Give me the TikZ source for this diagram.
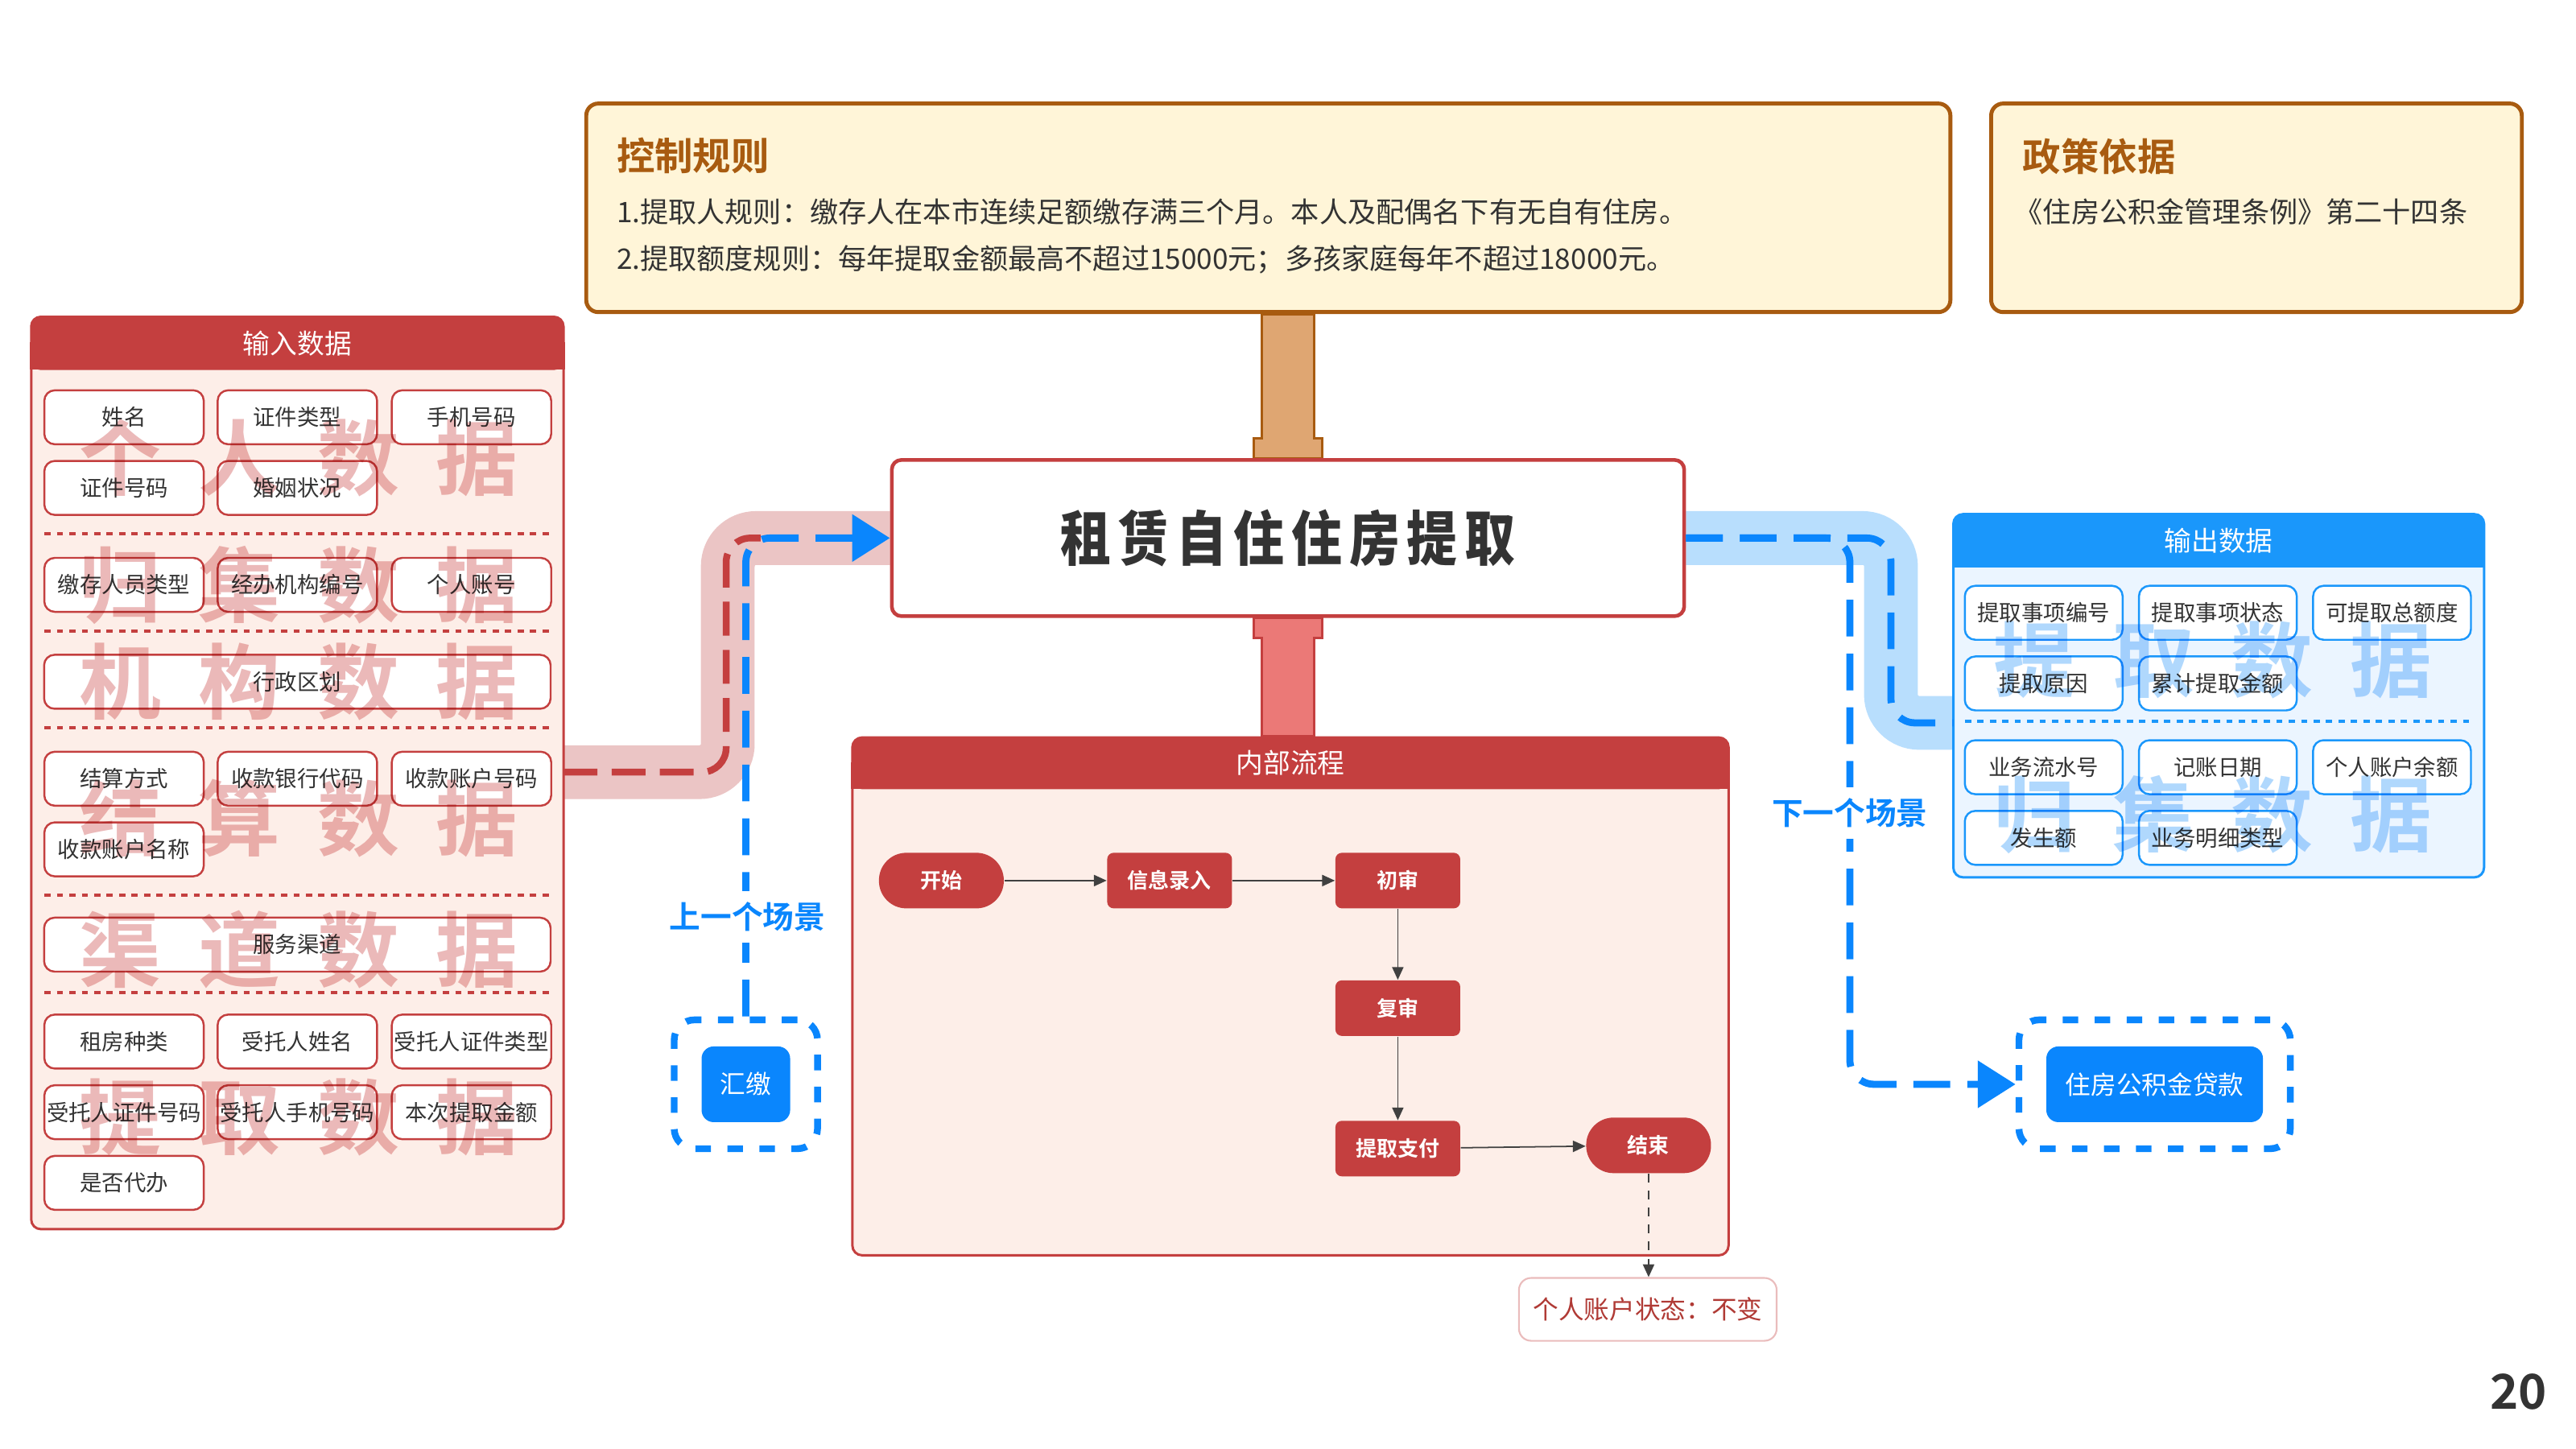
\documentclass[tikz,border=0pt]{standalone}
\usepackage{fontspec}
\setmainfont{Noto Sans CJK SC}[BoldFont={Noto Sans CJK SC Bold}]
\newfontfamily\titlefont{Noto Sans CJK SC Black}[FakeStretch=0.85,LetterSpace=12]
\usepackage{xcolor}
\usetikzlibrary{arrows.meta, positioning, calc, backgrounds}

\definecolor{hdred}{HTML}{C43F3F}
\definecolor{bodyred}{HTML}{FDEEE8}
\definecolor{bandred}{HTML}{EBC5C5}
\definecolor{barred}{HTML}{EB7977}
\definecolor{wmred}{HTML}{EBB9B9}
\definecolor{hdblue}{HTML}{1A97FB}
\definecolor{bodyblue}{HTML}{EBF5FF}
\definecolor{bandblue}{HTML}{B8DEFD}
\definecolor{wmblue}{HTML}{B0D8FD}
\definecolor{lineblue}{HTML}{0A86FD}
\definecolor{rulebrown}{HTML}{A85B10}
\definecolor{rulefill}{HTML}{FFF5D8}
\definecolor{barbrown}{HTML}{DFA672}
\definecolor{txtgray}{HTML}{333333}
\definecolor{notered}{HTML}{B03A35}

\newcommand{\fsz}[1]{\fontsize{#1}{#1}\selectfont}
\newcommand{\wmtext}[4]{#1\hskip13pt#2\hskip13pt#3\hskip13pt#4}

\begin{document}
\begin{tikzpicture}[
    x=0.020408cm, y=-0.020408cm,
    every node/.style={font=\fsz{7.8}, text=txtgray},
    panel/.style={draw, line width=0.85pt, rounded corners=0.12cm, inner sep=0pt},
    header/.style={rounded corners=0.12cm, inner sep=0pt, minimum height=0.67cm, text=white, font=\fsz{9.6}},
    inbox/.style={draw=hdred, fill=white, rounded corners=0.13cm, line width=0.7pt, minimum width=1.98cm, minimum height=0.67cm, inner sep=0pt},
    widebox/.style={inbox, minimum width=6.29cm},
    outbox/.style={inbox, draw=hdblue, minimum width=1.96cm},
    sepline/.style={line width=1.1pt, dash pattern=on 2.2pt off 2.2pt},
    wmark/.style={font=\bfseries\fsz{29}, inner sep=0pt},
    plain/.style={anchor=west, inner sep=0pt},
    stepbox/.style={fill=hdred, rounded corners=0.08cm, minimum width=1.55cm, minimum height=0.69cm, inner sep=0pt, text=white, font=\bfseries\fsz{7.4}},
    termbox/.style={stepbox, rounded corners=0.34cm},
    flow/.style={draw=black!75, line width=0.5pt, -{Triangle[length=4.5pt, width=4pt]}},
    ruleboard/.style={draw=rulebrown, fill=rulefill, line width=1.4pt, rounded corners=0.15cm, inner sep=0pt},
    scenebox/.style={draw=lineblue, line width=2.4pt, dash pattern=on 5.5pt off 5.8pt, rounded corners=0.25cm, inner sep=0pt},
    scenecard/.style={fill=lineblue, rounded corners=0.15cm, inner sep=0pt, minimum height=0.94cm, text=white, font=\fsz{9}},
    scenelabel/.style={fill=white, inner xsep=1pt, inner ysep=4pt, text=lineblue, font=\bfseries\fsz{11}},
    hop/.style={draw=lineblue, line width=2.5pt, dash pattern=on 13pt off 6pt, rounded corners=0.3cm},
    band/.style={line width=19pt, rounded corners=0.35cm}
]
\useasboundingbox (0,0) rectangle (1568,882);

% Rules on top
\node[ruleboard, minimum width=16.94cm, minimum height=2.59cm] (rules) at (772,126.5) {};
\node[plain, text=rulebrown, font=\bfseries\fsz{13.5}] (rulestitle) at (375,95) {控制规则};
\node[plain, font=\fsz{10}] (rule1) at (375,129) {1.提取人规则：缴存人在本市连续足额缴存满三个月。本人及配偶名下有无自有住房。};
\node[plain, font=\fsz{10}] (rule2) at (375,158) {2.提取额度规则：每年提取金额最高不超过15000元；多孩家庭每年不超过18000元。};

\node[ruleboard, minimum width=6.59cm, minimum height=2.59cm] (policy) at (1373.5,126.5) {};
\node[plain, text=rulebrown, font=\bfseries\fsz{13.5}] (policytitle) at (1231,95) {政策依据};
\node[plain, font=\fsz{10}] (policytext) at (1226,129) {《住房公积金管理条例》第二十四条};

% Scenario title
\node[draw=hdred, fill=white, line width=1.3pt, rounded corners=0.12cm, minimum width=9.84cm, minimum height=1.94cm, font=\titlefont\fsz{21}] (title) at (784,327.5) {租赁自住住房提取};

% Input data
\node[panel, draw=hdred, fill=bodyred, minimum width=6.61cm, minimum height=11.33cm] (inpanel) at (181,470.5) {};
\fill[hdred] ($(inpanel.north west)+(0,16)$) rectangle ($(inpanel.north east)+(0,33)$);
\node[header, fill=hdred, minimum width=6.61cm, anchor=north] (inhead) at (inpanel.north) {输入数据};

\node[inbox] (name) at (75.5,254) {姓名};
\node[inbox] (idtype) at (181,254) {证件类型};
\node[inbox] (phone) at (287,254) {手机号码};
\node[inbox] (idno) at (75.5,297) {证件号码};
\node[inbox] (marry) at (181,297) {婚姻状况};
\draw[sepline, hdred] (27,325) -- (336,325);
\node[inbox] (deptype) at (75.5,356) {缴存人员类型};
\node[inbox] (orgno) at (181,356) {经办机构编号};
\node[inbox] (acct) at (287,356) {个人账号};
\draw[sepline, hdred] (27,384) -- (336,384);
\node[widebox] (region) at (181,415) {行政区划};
\draw[sepline, hdred] (27,443) -- (336,443);
\node[inbox] (settle) at (75.5,474) {结算方式};
\node[inbox] (bankcode) at (181,474) {收款银行代码};
\node[inbox] (payeeno) at (287,474) {收款账户号码};
\node[inbox] (payeename) at (75.5,517) {收款账户名称};
\draw[sepline, hdred] (27,545) -- (336,545);
\node[widebox] (channel) at (181,575) {服务渠道};
\draw[sepline, hdred] (27,604) -- (336,604);
\node[inbox] (renttype) at (75.5,634) {租房种类};
\node[inbox] (agentname) at (181,634) {受托人姓名};
\node[inbox] (agentidtype) at (287,634) {受托人证件类型};
\node[inbox] (agentidno) at (75.5,677) {受托人证件号码};
\node[inbox] (agentphone) at (181,677) {受托人手机号码};
\node[inbox] (amount) at (287,677) {本次提取金额};
\node[inbox] (proxy) at (75.5,720) {是否代办};

% Output data
\node[panel, draw=hdblue, fill=bodyblue, minimum width=6.59cm, minimum height=4.51cm] (outpanel) at (1350.5,423.5) {};
\fill[hdblue] ($(outpanel.north west)+(0,16)$) rectangle ($(outpanel.north east)+(0,33)$);
\node[header, fill=hdblue, minimum width=6.59cm, anchor=north] (outhead) at (outpanel.north) {输出数据};

\node[outbox] (itemno) at (1244,373) {提取事项编号};
\node[outbox] (itemstate) at (1350,373) {提取事项状态};
\node[outbox] (quota) at (1456,373) {可提取总额度};
\node[outbox] (reason) at (1244,416) {提取原因};
\node[outbox] (total) at (1350,416) {累计提取金额};
\draw[sepline, hdblue] (1196,439) -- (1504,439);
\node[outbox] (serial) at (1244,467) {业务流水号};
\node[outbox] (bookdate) at (1350,467) {记账日期};
\node[outbox] (balance) at (1456,467) {个人账户余额};
\node[outbox] (occur) at (1244,510) {发生额};
\node[outbox] (detailtype) at (1350,510) {业务明细类型};

% Watermarks
\begin{scope}[blend mode=multiply]
\node[wmark, text=wmred] (wmpersonal) at (182,279) {\wmtext{个}{人}{数}{据}};
\node[wmark, text=wmred] (wmdeposit) at (182,356) {\wmtext{归}{集}{数}{据}};
\node[wmark, text=wmred] (wmorg) at (182,415) {\wmtext{机}{构}{数}{据}};
\node[wmark, text=wmred] (wmsettle) at (182,498) {\wmtext{结}{算}{数}{据}};
\node[wmark, text=wmred] (wmchannel) at (182,578) {\wmtext{渠}{道}{数}{据}};
\node[wmark, text=wmred] (wmdraw) at (182,680) {\wmtext{提}{取}{数}{据}};
\node[wmark, text=wmblue] (wmoutdraw) at (1347,402) {\wmtext{提}{取}{数}{据}};
\node[wmark, text=wmblue] (wmoutdeposit) at (1347,496) {\wmtext{归}{集}{数}{据}};
\end{scope}

% Internal process
\node[panel, draw=hdred, fill=bodyred, minimum width=10.88cm, minimum height=6.43cm] (proc) at (785.5,606.5) {};
\fill[hdred] ($(proc.north west)+(0,16)$) rectangle ($(proc.north east)+(0,32)$);
\node[header, fill=hdred, minimum width=10.88cm, minimum height=0.65cm, anchor=north] (prochead) at (proc.north) {内部流程};

\node[termbox] (start) at (573,536) {开始};
\node[stepbox, right=1.27cm of start] (entry) {信息录入};
\node[stepbox, right=1.27cm of entry] (firstck) {初审};
\node[stepbox, below=0.88cm of firstck] (secondck) {复审};
\node[stepbox, below=1.04cm of secondck] (payout) {提取支付};
\node[termbox, right=1.55cm of payout, yshift=0.04cm] (finish) {结束};

\draw[flow] (start) -- (entry);
\draw[flow] (entry) -- (firstck);
\draw[flow] (firstck) -- (secondck);
\draw[flow] (secondck) -- (payout);
\draw[flow] (payout) -- (finish);

\node[draw=hdred!35, fill=white, rounded corners=0.15cm, line width=0.6pt, minimum width=3.2cm, minimum height=0.78cm, text=notered, font=\fsz{9}] (state) at (1003,797) {个人账户状态：不变};
\draw[flow, dashed] (finish.south) -- (finish.south |- state.north);

% Neighbour scenarios
\node[scenebox, minimum width=1.78cm, minimum height=1.6cm] (prevbox) at (454,660) {};
\node[scenecard, minimum width=1.1cm] (prevcard) at (prevbox.center) {汇缴};
\node[scenebox, minimum width=3.37cm, minimum height=1.6cm] (nextbox) at (1311.5,660) {};
\node[scenecard, minimum width=2.69cm] (nextcard) at (nextbox.center) {住房公积金贷款};

\coordinate (injoin) at (343,470);
\coordinate (outjoin) at (1189,440);
\coordinate (redend) at (463,327.5);

% Bands and bars behind
\begin{scope}[on background layer]
\draw[band, bandred] (injoin) -| (443,400) |- (title.west);
\draw[band, bandblue] (title.east) -| (1151,400) |- (outjoin);
\path (title.north) coordinate (tn) (title.south) coordinate (ts);
\draw[rulebrown, fill=barbrown, line width=0.8pt] ($(tn)+(-21,0)$) -- ++(0,-12) -- ++(5,0) -- ($(tn |- rules.south)+(-16,0)$) -- ++(32,0) -- ($(tn)+(16,-12)$) -- ++(5,0) -- ++(0,12) -- cycle;
\draw[hdred, fill=barred, line width=0.8pt] ($(ts)+(-21,0)$) -- ++(0,12) -- ++(5,0) -- ($(ts |- proc.north)+(-16,0)$) -- ++(32,0) -- ($(ts)+(16,12)$) -- ++(5,0) -- ++(0,-12) -- cycle;
\end{scope}

% Dashed routes
\draw[hdred, line width=2.4pt, dash pattern=on 12pt off 5pt, rounded corners=0.3cm] (injoin) -| (442,400) |- (redend);
\draw[hop, -{Triangle[length=0.47cm, width=0.57cm]}] (prevbox.north) |- (title.west);
\draw[hop, -{Triangle[length=0.47cm, width=0.57cm]}] (title.east) -| (1126,500) |- (nextbox.west);
\draw[hop] (title.east) -| (1151,400) |- (outjoin);

\node[scenelabel] (prevlabel) at (455,558) {上一个场景};
\node[scenelabel] (nextlabel) at (1126,495) {下一个场景};

% Page number
\node[font=\bfseries\fsz{17}] (pagenum) at (1533,847) {20};

\end{tikzpicture}
\end{document}
